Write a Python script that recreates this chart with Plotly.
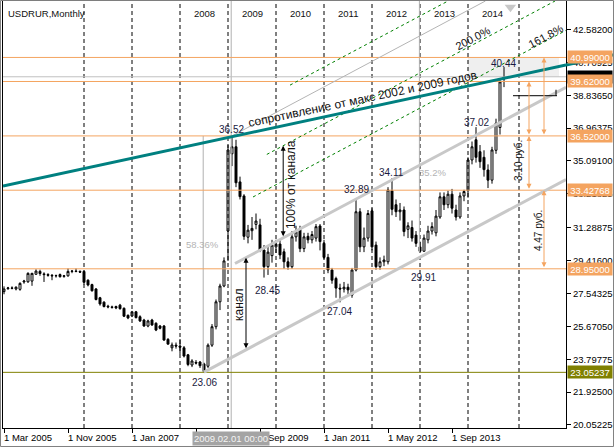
import plotly.graph_objects as go

# ---------------- data (monthly bars, index 0 = Jan 2008) ----------------
bar_index = list(range(-44, 82))

opens = [
    27.65, 27.82, 27.86, 27.8, 27.78, 28.2, 28.21, 28.25, 28.64, 28.8,
    28.66, 28.62, 28.58, 28.55, 28.62, 28.52, 28.55, 28.8, 28.82, 28.8,
    28.8, 28.3, 28.05, 27.8, 27.3, 27.05, 26.82, 26.78, 26.8, 26.88,
    26.7, 26.3, 26.26, 26.5, 26.22, 26.03, 25.69, 26.03, 25.85, 25.69,
    25.69, 24.93, 24.45, 24.6, 24.55, 24.45, 24.05, 23.47, 23.62, 23.64,
    23.53, 23.4, 24.6, 25.65, 27.07, 27.97, 31.1, 35.5, 35.9, 33.9,
    33.1, 30.75, 31.12, 31.48, 31.45, 30.02, 29.07, 29.7, 30.2, 30.36,
    29.92, 29.35, 29.07, 30.77, 31.2, 30.1, 30.8, 30.6, 30.7, 31.39,
    30.4, 29.6, 28.88, 28.4, 27.85, 27.8, 27.9, 27.45, 28.88, 32.2,
    30.2, 30.7, 32.25, 30.3, 29.07, 29.35, 29.35, 33.4, 32.6, 32.2,
    32.3, 31.2, 31.3, 30.87, 30.2, 29.95, 30.6, 31.1, 31.0, 31.9,
    33.05, 32.6, 33.2, 32.3, 31.9, 33.1, 33.4, 35.15, 36.3, 35.62,
    35.3, 34.58, 34.0, 35.7, 37.0, 39.76,
]
highs = [
    27.95, 27.92, 27.95, 27.95, 28.18, 28.32, 28.75, 28.72, 28.92, 28.9,
    28.75, 28.7, 28.65, 28.62, 28.68, 28.6, 28.97, 28.88, 28.97, 28.86,
    28.85, 28.35, 28.1, 27.85, 27.35, 27.1, 26.9, 26.85, 26.85, 26.95,
    26.75, 26.35, 26.55, 26.55, 26.3, 26.1, 26.05, 26.1, 25.9, 25.75,
    25.75, 25.0, 24.75, 24.75, 24.95, 24.55, 24.1, 23.8, 23.75, 23.7,
    23.6, 24.7, 25.8, 27.2, 28.1, 29.6, 36.0, 36.52, 36.3, 34.2,
    33.2, 31.45, 31.9, 32.1, 31.8, 30.3, 30.3, 30.6, 30.6, 30.6,
    30.1, 29.6, 31.1, 31.4, 31.4, 31.0, 31.0, 31.1, 31.5, 31.5,
    30.6, 29.8, 29.0, 28.5, 28.1, 28.2, 28.1, 29.0, 32.89, 32.4,
    31.3, 32.3, 32.4, 30.5, 29.6, 29.7, 33.6, 34.11, 32.9, 32.7,
    32.5, 31.6, 31.7, 31.1, 30.5, 30.9, 31.4, 31.6, 32.3, 33.3,
    33.3, 33.4, 33.5, 32.6, 33.3, 33.45, 35.3, 36.2, 37.02, 36.0,
    35.7, 34.9, 35.9, 37.5, 39.7, 40.44,
]
lows = [
    27.5, 27.75, 27.78, 27.72, 27.7, 28.1, 28.15, 27.98, 28.6, 28.55,
    28.2, 28.5, 28.3, 28.45, 28.45, 28.44, 28.5, 28.7, 28.75, 28.72,
    28.05, 27.95, 27.65, 27.15, 26.85, 26.75, 26.7, 26.68, 26.65, 26.62,
    26.2, 26.08, 26.2, 26.12, 25.92, 25.65, 25.62, 25.7, 25.4, 25.5,
    24.85, 24.62, 24.25, 24.4, 24.1, 23.9, 23.4, 23.35, 23.5, 23.3,
    23.06, 23.3, 24.5, 25.5, 26.6, 27.9, 29.4, 34.8, 33.6, 32.9,
    30.6, 30.4, 30.6, 31.2, 29.9, 28.45, 28.6, 29.3, 29.85, 29.5,
    28.95, 28.9, 28.95, 30.5, 29.9, 29.9, 30.4, 30.4, 30.5, 30.0,
    29.5, 28.7, 28.1, 27.3, 27.04, 27.6, 27.5, 27.3, 28.8, 29.9,
    29.9, 30.5, 30.0, 28.9, 28.9, 29.1, 29.2, 32.0, 31.9, 31.7,
    30.8, 30.7, 30.5, 30.2, 29.91, 29.93, 30.4, 30.9, 30.8, 31.8,
    32.3, 32.4, 32.1, 31.7, 31.8, 32.8, 33.0, 34.9, 35.0, 34.7,
    34.2, 33.55, 33.8, 35.5, 36.6, 39.3,
]
closes = [
    27.8, 27.86, 27.84, 27.9, 28.12, 28.25, 28.69, 28.69, 28.82, 28.68,
    28.62, 28.58, 28.55, 28.56, 28.5, 28.55, 28.8, 28.82, 28.8, 28.76,
    28.18, 28.03, 27.7, 27.2, 26.95, 26.8, 26.78, 26.75, 26.72, 26.68,
    26.25, 26.15, 26.5, 26.17, 25.98, 25.69, 25.98, 25.75, 25.46, 25.56,
    24.89, 24.66, 24.61, 24.55, 24.48, 23.98, 23.5, 23.7, 23.58, 23.43,
    23.1, 24.6, 25.65, 27.07, 27.97, 29.4, 35.72, 35.9, 33.85, 33.06,
    30.8, 31.15, 31.25, 31.67, 30.02, 29.07, 29.9, 30.3, 30.35, 29.74,
    29.35, 29.07, 30.77, 31.05, 30.1, 30.77, 30.6, 30.9, 31.35, 30.5,
    29.6, 28.88, 28.3, 27.85, 27.8, 27.9, 27.75, 28.88, 32.2, 30.2,
    30.7, 32.1, 30.2, 29.07, 29.35, 29.45, 33.44, 32.34, 32.2, 32.3,
    31.07, 31.4, 30.7, 30.4, 29.95, 30.7, 31.1, 31.35, 31.95, 33.05,
    32.6, 33.2, 32.4, 31.9, 33.1, 33.35, 35.15, 35.9, 35.3, 35.05,
    34.6, 34.0, 35.72, 37.24, 39.6, 39.89,
]

# horizontal price levels
level_prices = [40.99, 39.62, 36.52, 33.42768, 28.95]
level_tags = ["40.99000", "39.62000", "36.52000", "33.42768", "28.95000"]
support_price = 23.05237
support_tag = "23.05237"
bid_price = 39.8885
bid_tag = "39.88850"

# right price scale
y_tick_vals = [42.582, 40.70925, 38.8365, 36.96375, 35.091, 33.21825, 31.28875,
               29.416, 27.54325, 25.6705, 23.79775, 21.925, 20.05225]
y_tick_text = ["42.58200", "40.70925", "38.83650", "36.96375", "35.09100", "33.21825",
               "31.28875", "29.41600", "27.54325", "25.67050", "23.79775", "21.92500",
               "20.05225"]

# bottom time scale
x_tick_bars = [-44, -28, -12, 4, 20, 36, 52, 68]
x_tick_text = ["1 Mar 2005", "1 Nov 2005", "1 Jan 2007", "1 May 2008", "1 Sep 2009",
               "1 Jan 2011", "1 May 2012", "1 Sep 2013"]
crosshair_bar = 12.8
crosshair_text = "2009.02.01 00:00"

# year separators and labels
year_sep_bars = [-24, -12, 0, 12, 24, 36, 48, 60, 72, 84.75]
year_label_bars = [6, 18, 30, 42, 54, 66, 78]
year_labels = ["2008", "2009", "2010", "2011", "2012", "2013", "2014"]

# extreme value labels
peak_text = ["36.52", "32.89", "34.11", "28.45", "27.04", "29.91", "37.02", "40.44", "23.06"]
peak_bar = [12.75, 44, 52.75, 21.75, 39.75, 60.75, 74, 80.75, 6]
peak_pos = [36.91, 33.44, 34.46, 27.74, 26.49, 28.48, 37.31, 40.62, 22.50]

# resistance trend line (2002 & 2009 highs)
resist_bars = [-44.25, 96.5]
resist_prices = [33.67, 40.56]

# price channel from the 2008 low
channel_start_bar = 6
channel_start_price = 23.06
channel_slope = 0.1213      # per bar
channel_width = 5.25
fib_levels = [1.618, 2.0, 2.618]
fib_start_bars = [18.25, 21.7, 27.5]
fib_texts = ["161.8%", "200.0%"]

X_RANGE = [-44.25, 96.5]
Y_RANGE = [19.881, 44.205]

ORANGE = "#f4a460"
OLIVE = "#808000"
TEAL = "#008080"
SILVER = "#c8c8c8"
FONT = "Liberation Sans"
LABEL_COL = "#1a1a40"


def chan(k, level=0.0):
    return channel_start_price + channel_slope * (k - channel_start_bar) + level * channel_width


fig = go.Figure()

fig.add_trace(go.Candlestick(
    x=bar_index, open=opens, high=highs, low=lows, close=closes,
    increasing=dict(line=dict(color="black", width=1), fillcolor="white"),
    decreasing=dict(line=dict(color="black", width=1), fillcolor="black"),
    whiskerwidth=0, hoverinfo="skip", showlegend=False,
))

# small gray marker at top
fig.add_trace(go.Scatter(x=[82.6], y=[43.85], mode="markers",
                         marker=dict(symbol="triangle-down", size=10, color="#c8c8c8"),
                         cliponaxis=False, hoverinfo="skip", showlegend=False))

shapes = []
shapes.append(dict(type="rect", xref="x", yref="y", x0=72, x1=94.75, y0=bid_price, y1=40.99,
                   fillcolor="#efefef", line=dict(width=0), layer="below"))
for b in year_sep_bars:
    shapes.append(dict(type="line", xref="x", yref="paper", x0=b, x1=b, y0=0, y1=1,
                       line=dict(color="black", width=1, dash="4px,3px")))
shapes.append(dict(type="line", xref="x", yref="paper", x0=crosshair_bar, x1=crosshair_bar,
                   y0=0, y1=1, line=dict(color="#b0b0b0", width=1)))
shapes.append(dict(type="line", xref="x", yref="y", x0=5.8, x1=5.8, y0=23.06, y1=36.52,
                   line=dict(color="#b0b0b0", width=1)))
shapes.append(dict(type="line", xref="x", yref="y", x0=59.85, x1=59.85, y0=29.91, y1=Y_RANGE[1],
                   line=dict(color="#b0b0b0", width=1)))
shapes.append(dict(type="line", xref="paper", yref="y", x0=0, x1=1, y0=bid_price, y1=bid_price,
                   line=dict(color="#c0c0c0", width=1)))
for p in level_prices:
    shapes.append(dict(type="line", xref="paper", yref="y", x0=0, x1=1, y0=p, y1=p,
                       line=dict(color=ORANGE, width=1)))
shapes.append(dict(type="line", xref="paper", yref="y", x0=0, x1=1, y0=support_price,
                   y1=support_price, line=dict(color=OLIVE, width=1)))
shapes.append(dict(type="line", xref="x", yref="y", x0=channel_start_bar, x1=X_RANGE[1],
                   y0=chan(channel_start_bar), y1=chan(X_RANGE[1]),
                   line=dict(color=SILVER, width=3)))
shapes.append(dict(type="line", xref="x", yref="y", x0=13.75, x1=X_RANGE[1],
                   y0=chan(13.75, 1.0), y1=chan(X_RANGE[1], 1.0),
                   line=dict(color=SILVER, width=3)))
k_top = 13 + (Y_RANGE[1] - 36.52) / channel_slope
shapes.append(dict(type="line", xref="x", yref="y", x0=13, x1=k_top, y0=36.52, y1=Y_RANGE[1],
                   line=dict(color="#b4b4b4", width=1)))
for lv, ks in zip(fib_levels, fib_start_bars):
    ke = min(X_RANGE[1], channel_start_bar + (Y_RANGE[1] - channel_start_price - lv * channel_width) / channel_slope)
    shapes.append(dict(type="line", xref="x", yref="y", x0=ks, x1=ke, y0=chan(ks, lv), y1=chan(ke, lv),
                       line=dict(color="#008000", width=1, dash="3px,3px")))
shapes.append(dict(type="line", xref="x", yref="y", x0=resist_bars[0], x1=resist_bars[1],
                   y0=resist_prices[0], y1=resist_prices[1], line=dict(color=TEAL, width=3)))
slope_r = (resist_prices[1] - resist_prices[0]) / (resist_bars[1] - resist_bars[0])
shapes.append(dict(type="line", xref="paper", yref="y", x0=1, x1=1.0853,
                   y0=resist_prices[1], y1=resist_prices[1] + slope_r * 12,
                   line=dict(color=TEAL, width=3)))
shapes.append(dict(type="line", xref="x", yref="y", x0=83.25, x1=94.25, y0=38.81, y1=38.81,
                   line=dict(color="black", width=1)))
shapes.append(dict(type="line", xref="x", yref="y", x0=94.0, x1=94.0, y0=38.81, y1=39.15,
                   line=dict(color="black", width=1)))
shapes.append(dict(type="rect", xref="paper", yref="paper", x0=-0.0044, x1=1.0844,
                   y0=-0.0433, y1=1.0012, line=dict(color="#808080", width=1)))

ann = []


def arrow(k, p0, p1, color):
    ann.append(dict(x=k, y=p1, ax=k, ay=p0, xref="x", yref="y", axref="x", ayref="y",
                    text="", showarrow=True, arrowhead=2, startarrowhead=2, arrowside="end+start",
                    arrowwidth=1, arrowsize=1, startarrowsize=1, arrowcolor=color,
                    standoff=0, startstandoff=0))


arrow(87.25, 36.52, 39.62, ORANGE)
arrow(87.25, 33.42768, 36.52, ORANGE)
arrow(91.0, 36.52, 40.99, ORANGE)
arrow(91.0, 28.95, 33.42768, ORANGE)
arrow(16.5, chan(16.5), chan(16.5, 1.0), "black")
arrow(25.8, chan(25.8, 1.0), chan(25.8, 2.0), "black")

ann.append(dict(x=45.6, y=38.62, xref="x", yref="y", showarrow=False, textangle=-12,
                text="сопротивление от макс 2002 и 2009 годов",
                font=dict(family=FONT, size=12, color="#111111")))
ann.append(dict(x=14.75, y=26.89, xref="x", yref="y", showarrow=False, textangle=-90,
                text="канал", font=dict(family=FONT, size=12, color="#111111")))
ann.append(dict(x=27.75, y=33.72, xref="x", yref="y", showarrow=False, textangle=-90,
                text="100% от канала", font=dict(family=FONT, size=12, color="#111111")))
ann.append(dict(x=84.5, y=35.09, xref="x", yref="y", showarrow=False, textangle=-90,
                text="3.10 руб.", font=dict(family=FONT, size=10, color="#111111")))
ann.append(dict(x=89.5, y=31.1, xref="x", yref="y", showarrow=False, textangle=-90,
                text="4.47 руб.", font=dict(family=FONT, size=10, color="#111111")))
ann.append(dict(x=91.5, y=42.21, xref="x", yref="y", showarrow=False, textangle=-28,
                text=fib_texts[0], font=dict(family=FONT, size=11, color="#111111")))
ann.append(dict(x=73.25, y=42.1, xref="x", yref="y", showarrow=False, textangle=-28,
                text=fib_texts[1], font=dict(family=FONT, size=11, color="#111111")))
ann.append(dict(x=5.5, y=30.31, xref="x", yref="y", showarrow=False, text="58.36%",
                font=dict(family=FONT, size=9.5, color="#b4b4b4")))
ann.append(dict(x=63, y=34.46, xref="x", yref="y", showarrow=False, text="35.2%",
                font=dict(family=FONT, size=9.5, color="#b4b4b4")))

for t, b, p in zip(peak_text, peak_bar, peak_pos):
    ann.append(dict(x=b, y=p, xref="x", yref="y", showarrow=False, text=t,
                    font=dict(family=FONT, size=10, color=LABEL_COL)))

for b, t in zip(year_label_bars, year_labels):
    ann.append(dict(x=b, y=0.9705, xref="x", yref="paper", yanchor="middle", showarrow=False,
                    text=t, font=dict(family=FONT, size=9.5, color="#111111")))

ann.append(dict(x=0, y=1, xref="paper", yref="paper", xanchor="left", yanchor="top",
                xshift=3, yshift=-5, showarrow=False, text="USDRUR,Monthly",
                font=dict(family=FONT, size=9.5, color="#111111")))

for b, t in zip(x_tick_bars, x_tick_text):
    ann.append(dict(x=b, y=0, xref="x", yref="paper", xanchor="left", yanchor="top",
                    xshift=-2, yshift=-2, showarrow=False, text=t,
                    font=dict(family=FONT, size=9.5, color="black")))
ann.append(dict(x=crosshair_bar, y=0, xref="x", yref="paper", xanchor="center", yanchor="top",
                yshift=-3, showarrow=False, text=crosshair_text, bgcolor="#a4a4a4",
                borderpad=1, font=dict(family=FONT, size=9.5, color="#f4f4f4")))


def tag(p, t, bg):
    ann.append(dict(x=1, y=p, xref="paper", yref="y", xanchor="left", xshift=1,
                    showarrow=False, text=t, bgcolor=bg, width=44, height=12, borderpad=0,
                    font=dict(family=FONT, size=9.5, color="white")))


tag(bid_price, bid_tag, "black")
for p, t in zip(level_prices, level_tags):
    tag(p, t, ORANGE)
tag(support_price, support_tag, OLIVE)

fig.update_layout(
    width=614, height=447,
    margin=dict(l=3, r=48, t=1, b=19),
    paper_bgcolor="white", plot_bgcolor="white",
    showlegend=False, hovermode=False,
    shapes=shapes, annotations=ann,
    font=dict(family=FONT, size=10, color="black"),
)
fig.update_xaxes(range=X_RANGE, showgrid=False, zeroline=False, showline=True,
                 linecolor="black", linewidth=1, mirror=True, rangeslider_visible=False,
                 tickvals=x_tick_bars, ticktext=[""] * len(x_tick_bars), ticks="outside",
                 ticklen=4, tickcolor="black", showticklabels=False, automargin=False)
fig.update_yaxes(range=Y_RANGE, side="right", showgrid=False, zeroline=False, showline=True,
                 linecolor="black", linewidth=1, mirror=True, tickvals=y_tick_vals,
                 ticktext=y_tick_text, ticks="outside", ticklen=4, tickcolor="black",
                 tickfont=dict(family=FONT, size=9.5, color="black"), automargin=False)

fig.write_html("out.html", config={"displayModeBar": False},
               post_script="document.body.style.margin='0px';document.body.style.padding='0px';"
                           "document.documentElement.style.overflow='hidden';")
